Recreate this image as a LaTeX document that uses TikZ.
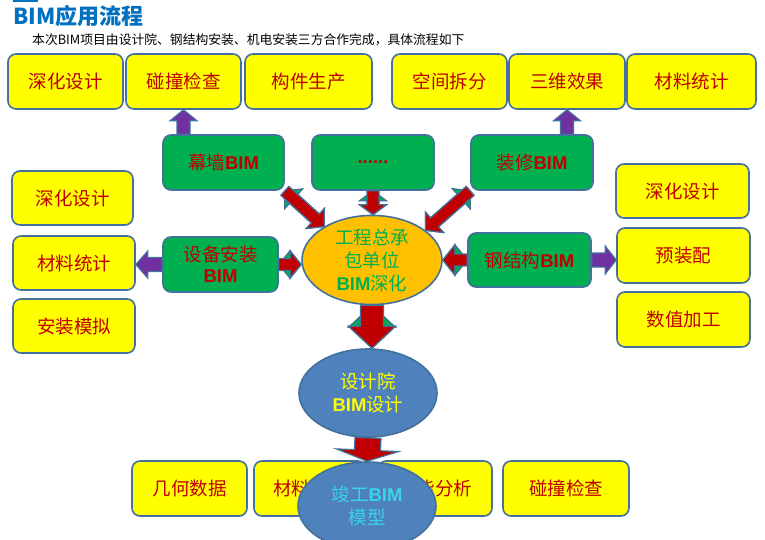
\documentclass[tikz,border=0pt]{standalone}
\usepackage{fontspec}
\setmainfont{Noto Sans CJK SC}
\newfontfamily\bimf{Liberation Sans}
\usetikzlibrary{calc,shapes.geometric}
\definecolor{bord}{HTML}{41719C}
\definecolor{ttlblue}{HTML}{0070C0}
\definecolor{txtred}{HTML}{C00000}
\definecolor{boxyel}{HTML}{FFFF00}
\definecolor{boxgrn}{HTML}{00B050}
\definecolor{ellorg}{HTML}{FFC000}
\definecolor{ellblue}{HTML}{4F81BD}
\definecolor{txtcyan}{HTML}{38D4E4}
\definecolor{arrpur}{HTML}{7030A0}
\newcommand{\bimtxt}{{\bimf\bfseries BIM}}
% single fat arrow: #1 style, #2 start, #3 end, #4 shaft half width, #5 head half width, #6 head length
\newcommand{\fatarrow}[6]{%
  \path ($(#3)!#6!(#2)$) coordinate (fah);
  \draw[#1] ($(#2)!#4!90:(#3)$) -- ($(fah)!#4!90:(#3)$) -- ($(fah)!#5!90:(#3)$) -- (#3)
    -- ($(fah)!#5!-90:(#3)$) -- ($(fah)!#4!-90:(#3)$) -- ($(#2)!#4!-90:(#3)$) -- cycle;}
% double fat arrow
\newcommand{\fatdarrow}[6]{%
  \path ($(#3)!#6!(#2)$) coordinate (fah) ($(#2)!#6!(#3)$) coordinate (fat);
  \draw[#1] (#2) -- ($(fat)!#5!90:(#3)$) -- ($(fat)!#4!90:(#3)$) -- ($(fah)!#4!90:(#3)$)
    -- ($(fah)!#5!90:(#3)$) -- (#3) -- ($(fah)!#5!-90:(#3)$) -- ($(fah)!#4!-90:(#3)$)
    -- ($(fat)!#4!-90:(#3)$) -- ($(fat)!#5!-90:(#3)$) -- cycle;}
\tikzset{
  ybox/.style={draw=bord, fill=boxyel, line width=1.6pt, rounded corners=8pt, inner sep=0pt,
    text=txtred, font=\fontsize{18.5}{22}\selectfont},
  gbox/.style={draw=bord, fill=boxgrn, line width=1.6pt, rounded corners=8pt, inner sep=0pt,
    text=txtred, align=center, font=\fontsize{18.5}{22}\selectfont},
  ell/.style={ellipse, draw=bord, line width=1.6pt, inner sep=0pt, align=center,
    font=\fontsize{18.5}{23}\selectfont},
  redarr/.style={fill=txtred, draw=bord, line width=1.2pt, line join=miter},
  backarr/.style={fill=boxgrn, draw=bord, line width=1.2pt, line join=miter},
  purarr/.style={fill=arrpur, draw=bord, line width=1.2pt, line join=miter},
}
\begin{document}
\begin{tikzpicture}[x=1pt,y=-1pt]
\useasboundingbox[fill=white] (0,0) rectangle (765,539);
% title
\fill[ttlblue] (13,0) rectangle (38,2);
\node[anchor=west, inner sep=0pt, text=ttlblue, font=\fontsize{22}{24}\selectfont\bfseries] (title) at (13,16.5) {BIM应用流程};
\node[anchor=west, inner sep=0pt, font=\fontsize{12.8}{14}\selectfont] (sub) at (32,40) {本次BIM项目由设计院、钢结构安装、机电安装三方合作完成，具体流程如下};
% top row
\node[ybox, minimum width=115pt, minimum height=55pt] (t1) at (65.5,81.5) {深化设计};
\node[ybox, minimum width=115pt, minimum height=55pt] (t2) at (183.5,81.5) {碰撞检查};
\node[ybox, minimum width=127pt, minimum height=55pt] (t3) at (308.5,81.5) {构件生产};
\node[ybox, minimum width=115pt, minimum height=55pt] (t4) at (449.5,81.5) {空间拆分};
\node[ybox, minimum width=116pt, minimum height=55pt] (t5) at (567,81.5) {三维效果};
\node[ybox, minimum width=129pt, minimum height=55pt] (t6) at (691.5,81.5) {材料统计};
% green row 1
\node[gbox, minimum width=121pt, minimum height=55pt] (mq) at (223.5,162.5) {幕墙\bimtxt};
\node[gbox, minimum width=122pt, minimum height=55pt] (dd) at (373,162.5) {\bimf\bfseries ......};
\node[gbox, minimum width=122pt, minimum height=55pt] (zx) at (532,162.5) {装修\bimtxt};
% green row 2
\node[gbox, minimum width=115pt, minimum height=55pt] (sb) at (220.5,264.5) {设备安装\\[-1pt]\bimtxt};
\node[gbox, minimum width=123pt, minimum height=54pt] (gj) at (529.5,260) {钢结构\bimtxt};
% left column
\node[ybox, minimum width=121pt, minimum height=54pt] (l1) at (72.5,198) {深化设计};
\node[ybox, minimum width=122pt, minimum height=54pt] (l2) at (74,263) {材料统计};
\node[ybox, minimum width=122pt, minimum height=54pt] (l3) at (74,326) {安装模拟};
% right column
\node[ybox, minimum width=133pt, minimum height=54pt] (r1) at (682.5,191) {深化设计};
\node[ybox, minimum width=133pt, minimum height=55pt] (r2) at (683.5,255.5) {预装配};
\node[ybox, minimum width=133pt, minimum height=55pt] (r3) at (683.5,319.5) {数值加工};
% bottom row
\node[ybox, minimum width=115pt, minimum height=55pt] (b1) at (189.5,488.5) {几何数据};
\node[ybox, minimum width=112pt, minimum height=55pt] (b2) at (310,488.5) {材料统计};
\node[ybox, minimum width=114pt, minimum height=55pt] (b3) at (435,488.5) {性能分析};
\node[ybox, minimum width=126pt, minimum height=55pt] (b4) at (566,488.5) {碰撞检查};
% ellipses
\node[ell, fill=ellorg, text=boxgrn, minimum width=140pt, minimum height=87pt] (zc) at (372,260) {工程总承\\包单位\\\bimtxt 深化};
\node[ell, fill=ellblue, text=boxyel, minimum width=138pt, minimum height=88pt] (sj) at (368,393) {设计院\\\bimtxt 设计};
\node[ell, fill=ellblue, text=txtcyan, minimum width=138pt, minimum height=88pt] (jg) at (367,506) {竣工\bimtxt\\模型};
% connector end points
\coordinate (p1s) at (t2.south |- mq.north);
\coordinate (p2s) at (t5.south |- zx.north);
\coordinate (p3e) at (sb.west -| l2.east);
\coordinate (p4e) at (gj.east -| r2.west);
\coordinate (a2e) at (dd.south |- zc.north);
\coordinate (a4e) at (sb.east -| zc.west);
\coordinate (a5e) at (gj.west -| zc.east);
\coordinate (a6e) at (zc.south |- sj.north);
% purple arrows
\fatarrow{purarr}{p1s}{t2.south}{6.5pt}{13.5pt}{11pt}
\fatarrow{purarr}{p2s}{t5.south}{6.5pt}{13.5pt}{11pt}
\fatarrow{purarr}{sb.west}{p3e}{7pt}{13.5pt}{12pt}
\fatarrow{purarr}{gj.east}{p4e}{7pt}{14pt}{11pt}
% red double arrows into the centre
\fatdarrow{backarr}{mq.south east}{zc.145}{6pt}{13.5pt}{12pt}
\fatarrow{redarr}{mq.south east}{zc.145}{6pt}{13.5pt}{12pt}
\fatdarrow{backarr}{dd.south}{a2e}{6pt}{13.5pt}{10pt}
\fatarrow{redarr}{dd.south}{a2e}{6pt}{13.5pt}{10pt}
\fatdarrow{backarr}{zx.south west}{zc.29}{6pt}{13.5pt}{12pt}
\fatarrow{redarr}{zx.south west}{zc.29}{6pt}{13.5pt}{12pt}
\fatdarrow{backarr}{sb.east}{a4e}{6pt}{13.5pt}{11pt}
\fatarrow{redarr}{sb.east}{a4e}{6pt}{13.5pt}{11pt}
\fatdarrow{backarr}{gj.west}{a5e}{6pt}{15pt}{12pt}
\fatarrow{redarr}{gj.west}{a5e}{6pt}{15pt}{12pt}
\fatdarrow{backarr}{zc.south}{a6e}{11.5pt}{23.5pt}{22pt}
\fatarrow{redarr}{zc.south}{a6e}{11.5pt}{23.5pt}{22pt}
\fatarrow{redarr}{sj.south}{jg.north}{13pt}{31pt}{11pt}
\end{tikzpicture}
\end{document}
